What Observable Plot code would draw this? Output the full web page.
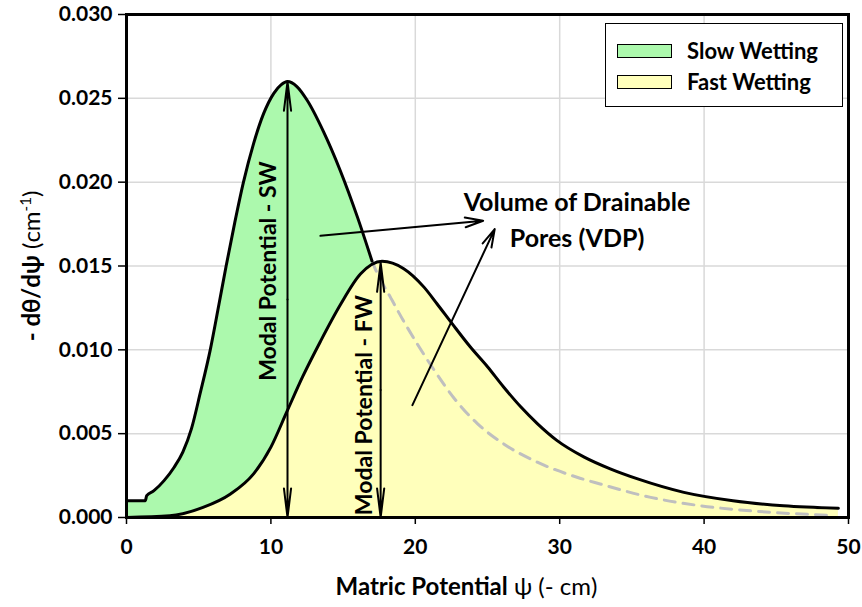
<!DOCTYPE html>
<html>
<head>
<meta charset="utf-8">
<script src="https://cdn.jsdelivr.net/npm/d3@7"></script>
<script src="https://cdn.jsdelivr.net/npm/@observablehq/plot@0.6"></script>
<style>
  body { margin: 0; background: white; }
  #wrap { position: relative; width: 862px; height: 607px; font-family: Lato, "Open Sans", sans-serif; }
  #legend { position: absolute; left: 605px; top: 23px; width: 238px; height: 84px; border: 1.5px solid black; background: white; box-sizing: border-box; }
  .item { position: absolute; left: 11px; display: flex; align-items: center; font-weight: bold; font-size: 22px; color: black; line-height: 26px; }
  .sw { width: 55px; height: 14px; border: 1.5px solid black; margin-right: 15px; box-sizing: border-box; }
</style>
</head>
<body>
<div id="wrap"></div>
<script>
// ---- data ----
const xTicks = [0, 10, 20, 30, 40, 50];
const yTicks = [0, 0.005, 0.010, 0.015, 0.020, 0.025, 0.030];

// Slow wetting: solid part (up to the crossing with FW)
const swSolidPsi  = [0, 1.3, 1.4, 1.9, 2.6, 3.3, 3.9, 4.5, 5.1, 5.8, 6.4, 6.9, 7.5, 8.1, 8.8, 9.5, 10.2, 10.7, 11.15, 11.8, 12.5, 13.65, 14.8, 16.0, 17.0];
const swSolidRate = [0.001, 0.001, 0.0013, 0.0016, 0.0022, 0.0030, 0.0039, 0.0053, 0.0074, 0.0100, 0.0127, 0.0150, 0.0176, 0.0200, 0.0223, 0.0241, 0.0253, 0.0258, 0.0260, 0.0257, 0.0249, 0.0230, 0.0207, 0.0179, 0.0153];
// Slow wetting: dashed tail below the FW curve
const swTailPsi  = [17.0, 17.24, 18.3, 19.2, 20.1, 21.3, 22.7, 24.3, 26.1, 28.45, 31.2, 32.8, 36.3, 39.75, 43.2, 49.0];
const swTailRate = [0.0153, 0.0148, 0.0131, 0.0117, 0.0104, 0.0088, 0.0071, 0.0056, 0.0044, 0.0033, 0.0024, 0.0020, 0.0012, 0.0007, 0.0004, 0.00012];

// Fast wetting
const fwPsi  = [0, 3.0, 5.3, 7.2, 8.8, 10.0, 11.1, 12.2, 13.43, 14.82, 16.2, 17.7, 19.2, 20.6, 21.5, 22.55, 23.8, 25.0, 26.1, 27.3, 28.45, 29.8, 31.7, 33.5, 35.4, 38.6, 42.0, 45.5, 49.3];
const fwRate = [0, 0.0001, 0.0006, 0.0014, 0.0026, 0.0042, 0.0063, 0.0084, 0.0105, 0.0127, 0.01452, 0.01528, 0.01484, 0.01374, 0.01275, 0.01156, 0.01018, 0.00899, 0.0078, 0.0066, 0.0056, 0.0046, 0.0036, 0.0029, 0.0023, 0.0015, 0.0010, 0.0007, 0.00055];

// Modal potentials
const modalNames = ["Modal Potential - SW", "Modal Potential - FW"];
const modalPsi   = [11.15, 17.6];
const modalPeak  = [0.0260, 0.0152];
const modalLabelPsi  = [9.85, 16.5];
const modalLabelRate = [0.0147, 0.0067];

// VDP annotation
const vdpText = "Volume of Drainable\nPores (VDP)";
const vdpTextPsi = 31.2, vdpTextRate = 0.0179;
const vdpFromPsi  = [13.43, 19.8];
const vdpFromRate = [0.0168, 0.0067];
const vdpToPsi    = [24.7, 25.5];
const vdpToRate   = [0.0177, 0.0172];

const legendNames = ["Slow Wetting", "Fast Wetting"];
const green = "#acf9ad", yellow = "#ffffbb";

// ---- build tables ----
const zip = (xs, ys) => xs.map((x, i) => ({psi: x, rate: ys[i]}));
const swSolid = zip(swSolidPsi, swSolidRate);
const swTail = zip(swTailPsi, swTailRate);
const swAll = swSolid.concat(swTail.slice(1));
const fw = zip(fwPsi, fwRate);
const modal = modalPsi.map((p, i) => ({psi: p, peak: modalPeak[i], mid: modalPeak[i] / 2, name: modalNames[i], lx: modalLabelPsi[i], ly: modalLabelRate[i]}));
const vdp = vdpFromPsi.map((p, i) => ({x1: p, y1: vdpFromRate[i], x2: vdpToPsi[i], y2: vdpToRate[i]}));

const chart = Plot.plot({
  width: 862, height: 607,
  marginLeft: 126, marginRight: 14, marginTop: 14, marginBottom: 90,
  style: {fontFamily: "Lato, 'Open Sans', sans-serif", fontSize: "21px", fontWeight: "bold", color: "black", background: "white", overflow: "visible"},
  x: {domain: [0, 50]},
  y: {domain: [0, 0.03]},
  marks: [
    Plot.gridX(xTicks.slice(1, -1), {stroke: "#d9d9d9", strokeOpacity: 1, strokeWidth: 1.5}),
    Plot.gridY(yTicks.slice(1, -1), {stroke: "#d9d9d9", strokeOpacity: 1, strokeWidth: 1.5}),
    Plot.areaY(swAll, {x: "psi", y: "rate", fill: green, curve: "monotone-x"}),
    Plot.areaY(fw, {x: "psi", y: "rate", fill: yellow, curve: "monotone-x"}),
    Plot.line(swTail, {x: "psi", y: "rate", stroke: "#bfbfbf", strokeWidth: 3, strokeDasharray: "11,8", curve: "monotone-x"}),
    Plot.line(fw, {x: "psi", y: "rate", stroke: "black", strokeWidth: 3, curve: "monotone-x"}),
    Plot.line(swSolid, {x: "psi", y: "rate", stroke: "black", strokeWidth: 3, curve: "monotone-x"}),
    Plot.arrow(modal, {x1: "psi", y1: "mid", x2: "psi", y2: "peak", stroke: "black", strokeWidth: 2, headLength: 22, headAngle: 14}),
    Plot.arrow(modal, {x1: "psi", y1: "mid", x2: "psi", y2: () => 0, stroke: "black", strokeWidth: 2, headLength: 22, headAngle: 14}),
    Plot.arrow(vdp, {x1: "x1", y1: "y1", x2: "x2", y2: "y2", stroke: "black", strokeWidth: 2, headLength: 14, headAngle: 30}),
    Plot.text(modal, {x: "lx", y: "ly", text: "name", rotate: -90, fontSize: 23, fontWeight: "bold", fill: "black"}),
    Plot.text([vdpText], {x: () => vdpTextPsi, y: () => vdpTextRate, text: d => d, fontSize: 25, fontWeight: "bold", fill: "black", lineHeight: 1.44}),
    Plot.frame({stroke: "black", strokeWidth: 3}),
    Plot.axisX({ticks: xTicks, tickSize: 7, tickPadding: 15, strokeWidth: 1.5, tickFormat: d => String(d), label: "Matric Potential ψ (- cm)", labelAnchor: "center", labelOffset: 77, labelArrow: "none"}),
    Plot.axisY({ticks: yTicks, tickSize: 8, tickPadding: 6, strokeWidth: 1.5, tickFormat: d => d.toFixed(3), label: "- dθ/dψ (cm-1)", labelAnchor: "center", labelOffset: 104, labelArrow: "none"})
  ]
});

const wrap = document.getElementById("wrap");
wrap.appendChild(chart);

// axis label styling with mixed weights
const xl = chart.querySelector('g[aria-label="x-axis label"] text');
if (xl) {
  xl.setAttribute("font-size", "24");
  xl.setAttribute("dx", "-21");
  xl.innerHTML = '<tspan font-weight="bold">Matric Potential</tspan><tspan font-weight="normal"> ψ (- cm)</tspan>';
}
const yl = chart.querySelector('g[aria-label="y-axis label"] text');
if (yl) {
  yl.setAttribute("font-size", "24");
  yl.innerHTML = '<tspan font-weight="bold">- dθ/dψ</tspan><tspan font-weight="normal"> (cm</tspan><tspan font-weight="normal" font-size="15" dy="-9">-1</tspan><tspan font-weight="normal" dy="9">)</tspan>';
}

// legend (HTML overlay)
const legend = document.createElement("div");
legend.id = "legend";
[green, yellow].forEach((c, i) => {
  const it = document.createElement("div");
  it.className = "item";
  it.style.top = (i === 0 ? 14 : 45) + "px";
  const sw = document.createElement("div");
  sw.className = "sw";
  sw.style.background = c;
  it.appendChild(sw);
  it.appendChild(document.createTextNode(legendNames[i]));
  legend.appendChild(it);
});
wrap.appendChild(legend);
</script>
</body>
</html>
